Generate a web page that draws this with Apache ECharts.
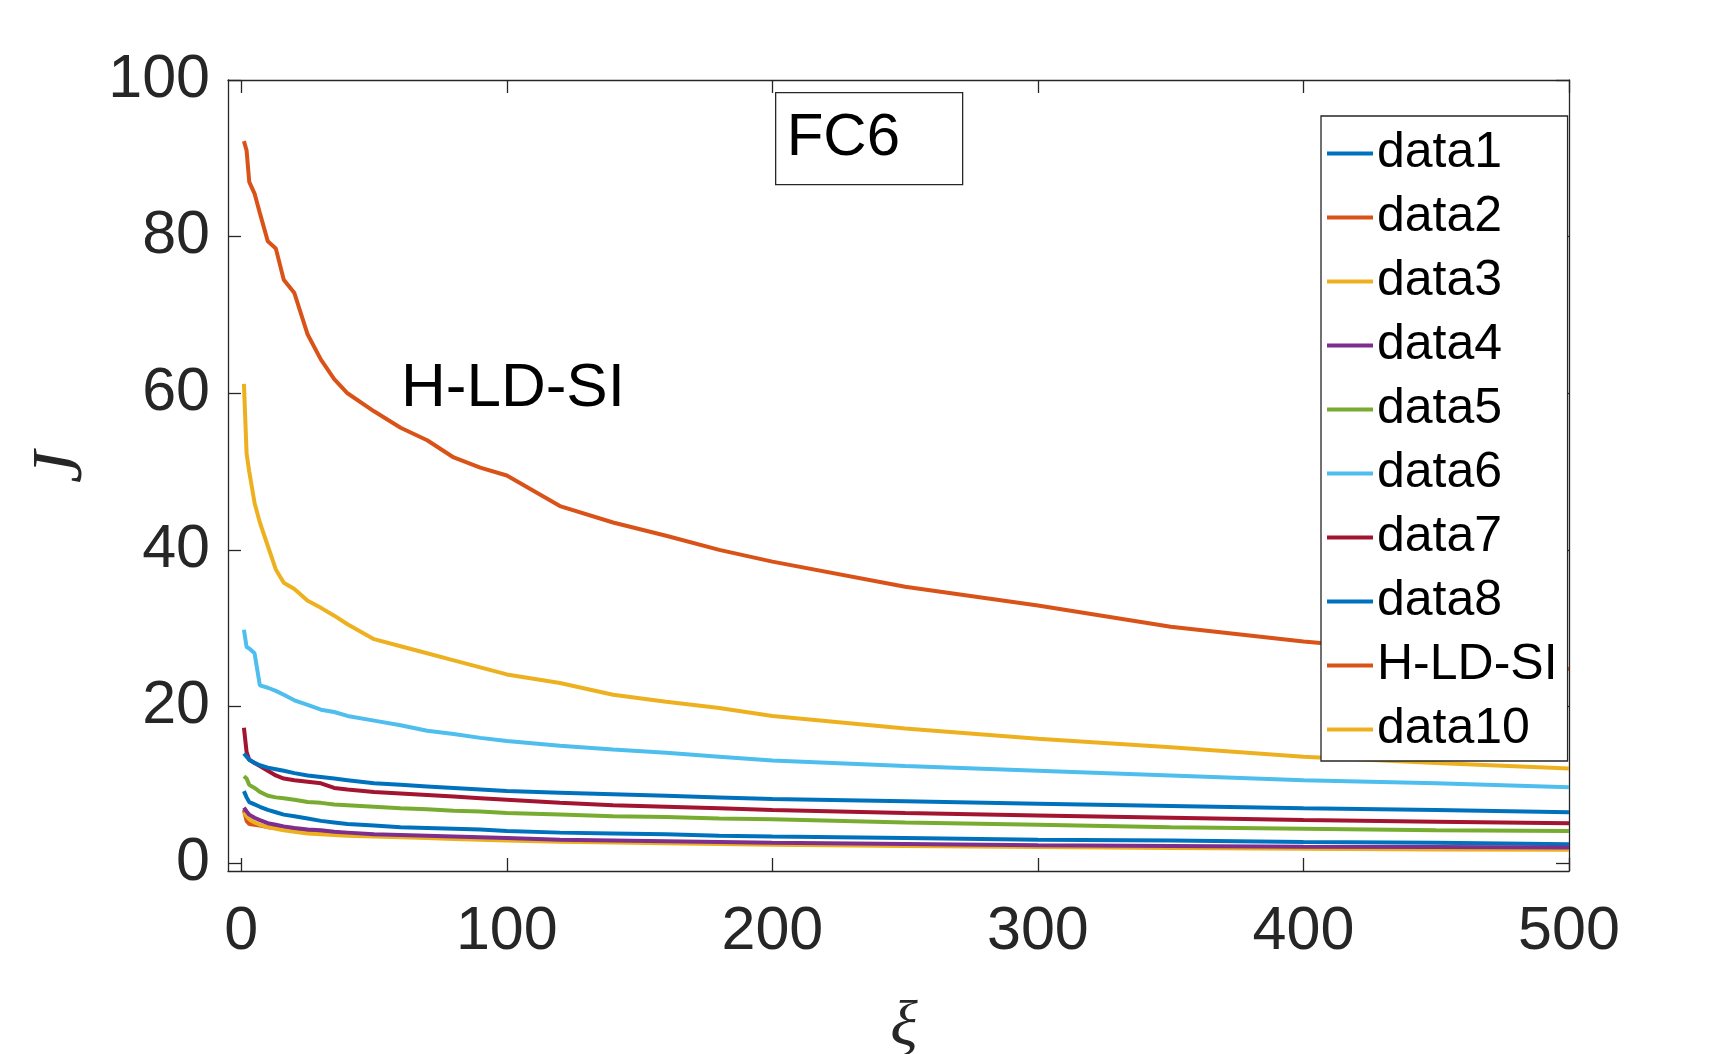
<!DOCTYPE html>
<html>
<head>
<meta charset="utf-8">
<script src="https://cdn.jsdelivr.net/npm/echarts@6/dist/echarts.min.js"></script>
<style>
html, body { margin: 0; padding: 0; background: #fff; }
#main { width: 1735px; height: 1054px; }
</style>
</head>
<body>
<div id="main"></div>
<script>
var chartDom = document.getElementById('main');
var myChart = echarts.init(chartDom);

// x positions (iterations) where values were read
var xs = [1, 2, 3, 5, 7, 10, 13, 16, 20, 25, 30, 35, 40, 50, 60, 70, 80, 90, 100,
    120, 140, 160, 180, 200, 250, 300, 350, 400, 450, 500];

var data1 = [9.2, 8.4, 7.8, 7.5, 7.2, 6.8, 6.5, 6.2, 6.0, 5.7, 5.4, 5.2, 5.0, 4.8, 4.6, 4.5, 4.4, 4.3, 4.1,
    3.9, 3.8, 3.7, 3.5, 3.4, 3.2, 3.0, 2.9, 2.7, 2.6, 2.4];
var data2 = [6.8, 5.4, 5.0, 4.9, 4.8, 4.6, 4.5, 4.3, 4.1, 3.95, 3.8, 3.7, 3.6, 3.5, 3.4, 3.3, 3.2, 3.1, 3.0,
    2.9, 2.8, 2.7, 2.6, 2.45, 2.3, 2.2, 2.05, 1.95, 1.85, 1.8];
var data3 = [6.5, 6.0, 5.6, 5.2, 4.9, 4.6, 4.4, 4.2, 4.0, 3.8, 3.7, 3.6, 3.5, 3.4, 3.3, 3.2, 3.1, 3.0, 2.9,
    2.75, 2.65, 2.55, 2.45, 2.35, 2.2, 2.05, 1.95, 1.85, 1.75, 1.7];
var data4 = [7.1, 6.6, 6.2, 5.8, 5.5, 5.1, 4.9, 4.7, 4.5, 4.3, 4.2, 4.0, 3.9, 3.7, 3.6, 3.5, 3.4, 3.3, 3.2,
    3.0, 2.9, 2.8, 2.7, 2.6, 2.45, 2.3, 2.2, 2.1, 2.05, 2.0];
var data5 = [11.1, 10.8, 10.0, 9.6, 9.1, 8.6, 8.4, 8.3, 8.1, 7.8, 7.7, 7.5, 7.4, 7.2, 7.0, 6.9, 6.7, 6.6, 6.4,
    6.2, 6.0, 5.9, 5.7, 5.6, 5.2, 4.9, 4.6, 4.4, 4.2, 4.1];
var data6 = [29.8, 27.6, 27.4, 26.8, 22.7, 22.4, 22.0, 21.5, 20.8, 20.2, 19.6, 19.3, 18.8, 18.2, 17.6, 16.9, 16.5, 16.0, 15.6,
    15.0, 14.5, 14.1, 13.6, 13.1, 12.4, 11.8, 11.2, 10.6, 10.2, 9.7];
var data7 = [17.3, 14.2, 13.2, 12.8, 12.4, 11.8, 11.2, 10.8, 10.6, 10.4, 10.2, 9.6, 9.4, 9.1, 8.9, 8.7, 8.5, 8.3, 8.1,
    7.7, 7.4, 7.2, 7.0, 6.8, 6.4, 6.1, 5.8, 5.5, 5.3, 5.1];
var data8 = [14.0, 13.6, 13.2, 12.8, 12.5, 12.2, 12.0, 11.8, 11.5, 11.2, 11.0, 10.8, 10.6, 10.2, 10.0, 9.8, 9.6, 9.4, 9.2,
    9.0, 8.8, 8.6, 8.4, 8.2, 7.9, 7.6, 7.3, 7.0, 6.8, 6.5];
var hldsi = [92.2, 91.0, 87.0, 85.5, 83.0, 79.4, 78.5, 74.5, 72.8, 67.5, 64.3, 61.8, 60.0, 57.7, 55.6, 54.0, 51.8, 50.5, 49.5,
    45.6, 43.5, 41.8, 40.0, 38.5, 35.3, 32.9, 30.2, 28.3, 26.8, 24.8];
var data10 = [61.2, 52.3, 50.0, 46.0, 43.5, 40.5, 37.5, 35.8, 35.0, 33.5, 32.6, 31.6, 30.5, 28.6, 27.7, 26.8, 25.9, 25.0, 24.1,
    23.0, 21.5, 20.6, 19.8, 18.8, 17.2, 15.9, 14.8, 13.6, 12.8, 12.1];

var names = ['data1', 'data2', 'data3', 'data4', 'data5', 'data6', 'data7', 'data8', 'H-LD-SI', 'data10'];
var values = [data1, data2, data3, data4, data5, data6, data7, data8, hldsi, data10];
var colors = ['#0072BD', '#D95319', '#EDB120', '#7E2F8E', '#77AC30', '#4DBEEE', '#A2142F', '#0072BD', '#D95319', '#EDB120'];

var xTicks = [0, 100, 200, 300, 400, 500];
var yTicks = [0, 20, 40, 60, 80, 100];

var axisColor = '#262626';
var font = 'Liberation Sans';

function pairs(v) { //把x和值组合成点
    var out = [];
    for (var i = 0; i < xs.length; i++) {
        out.push([xs[i], v[i]]);
    }
    return out;
}

var series = [];
for (var i = 0; i < names.length; i++) {
    series.push({
        name: names[i],
        type: 'line',
        data: pairs(values[i]),
        symbol: 'none',
        smooth: false,
        lineStyle: { color: colors[i], width: 4 },
        itemStyle: { color: colors[i] },
        emphasis: { disabled: true },
        animation: false
    });
}

function xAxisOf(pos, showLabel) {
    return {
        type: 'value',
        position: pos,
        min: -5,
        max: 500,
        axisLine: { show: true, onZero: false, lineStyle: { color: axisColor, width: 1.3 } },
        axisTick: { show: true, inside: true, length: 13, customValues: xTicks, lineStyle: { color: axisColor, width: 1.3 } },
        axisLabel: {
            show: showLabel, customValues: xTicks, margin: 31,
            fontFamily: font, fontSize: 61, color: axisColor
        },
        splitLine: { show: false }
    };
}

function yAxisOf(pos, showLabel) {
    return {
        type: 'value',
        position: pos,
        min: -1,
        max: 100,
        axisLine: { show: true, onZero: false, lineStyle: { color: axisColor, width: 1.3 } },
        axisTick: { show: true, inside: true, length: 13, customValues: yTicks, lineStyle: { color: axisColor, width: 1.3 } },
        axisLabel: {
            show: showLabel, customValues: yTicks, margin: 18,
            fontFamily: font, fontSize: 61, color: axisColor
        },
        splitLine: { show: false }
    };
}

var option = {
    backgroundColor: '#fff',
    animation: false,
    grid: { left: 228, right: 166, top: 80, bottom: 183 },
    xAxis: [xAxisOf('bottom', true), xAxisOf('top', false)],
    yAxis: [yAxisOf('left', true), yAxisOf('right', false)],
    legend: {
        data: names,
        orient: 'vertical',
        left: 1321,
        top: 116,
        icon: 'rect',
        itemWidth: 46,
        itemHeight: 4,
        itemGap: 7,
        selectedMode: false,
        backgroundColor: '#fff',
        borderColor: axisColor,
        borderWidth: 1.3,
        padding: [9, 10, 3, 6],
        textStyle: { fontFamily: font, fontSize: 50, color: '#000', lineHeight: 57, padding: [0, 0, 0, -1] }
    },
    graphic: [
        { //FC6标题框
            type: 'group',
            left: 775,
            top: 92,
            children: [
                { type: 'rect', shape: { x: 0, y: 0, width: 187, height: 92 }, style: { fill: '#fff', stroke: axisColor, lineWidth: 1.3 } },
                { type: 'text', x: 11, y: 46, style: { text: 'FC6', fontFamily: font, fontSize: 60, fill: '#000', verticalAlign: 'middle' } }
            ]
        },
        { //曲线注释
            type: 'text', left: 401, top: 358,
            style: { text: 'H-LD-SI', fontFamily: font, fontSize: 62, fill: '#000' }
        },
        { //y轴名
            type: 'text', x: 62, y: 467, rotation: Math.PI / 2,
            style: { text: 'J', fontFamily: 'Liberation Serif', fontStyle: 'italic', fontSize: 72, fill: axisColor, align: 'center', verticalAlign: 'middle' }
        },
        { //x轴名
            type: 'text', x: 904, y: 1028,
            style: { text: 'ξ', fontFamily: 'Liberation Serif', fontStyle: 'italic', fontSize: 64, fill: axisColor, align: 'center', verticalAlign: 'middle' }
        }
    ],
    series: series
};

option && myChart.setOption(option);
</script>
</body>
</html>
